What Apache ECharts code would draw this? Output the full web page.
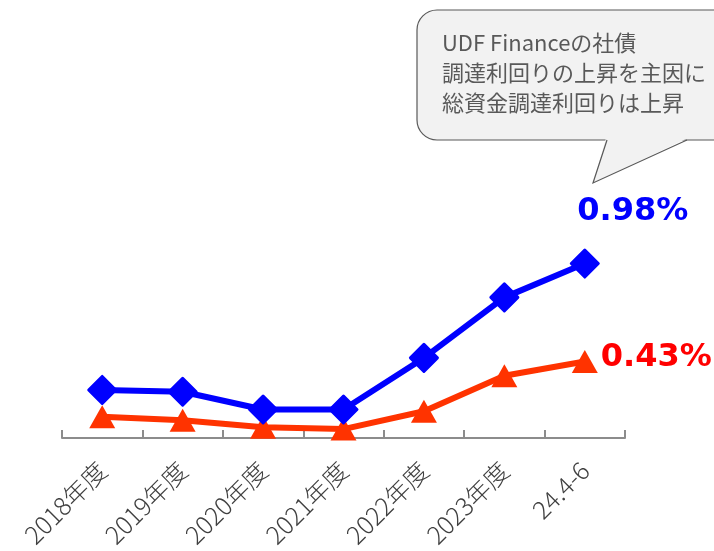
<!DOCTYPE html>
<html>
<head>
    <meta charset="utf-8">
    <title>総資金調達利回り</title>
    <script src="https://cdn.jsdelivr.net/npm/echarts@6/dist/echarts.min.js"></script>
    <style>
        html, body { margin: 0; padding: 0; background: #fff; }
        #chart_main { width: 714px; height: 551px; }
    </style>
</head>
<body>
    <div id="chart_main"></div>
    <script>
        // データ
        var categories = ['2018年度', '2019年度', '2020年度', '2021年度', '2022年度', '2023年度', '24.4-6'];
        var totalRate = [0.27, 0.26, 0.16, 0.16, 0.45, 0.79, 0.98];   // 青
        var otherRate = [0.12, 0.10, 0.06, 0.05, 0.15, 0.35, 0.43];   // 赤
        var calloutLines = ['UDF Financeの社債', '調達利回りの上昇を主因に', '総資金調達利回りは上昇'];

        var myChart = echarts.init(document.getElementById('chart_main'));

        function lastLabel(color, pos, offset) {
            return {
                show: true,
                position: pos,
                offset: offset,
                color: color,
                fontSize: 32,
                fontWeight: 'bold',
                fontFamily: 'DejaVu Sans',
                formatter: function (p) {
                    return p.dataIndex == categories.length - 1 ? p.value.toFixed(2) + '%' : '';
                }
            };
        }

        var bubbleFill = '#f2f2f2';
        var bubbleLine = '#595959';

        var option = {
            animation: false,
            grid: { left: 62, right: 89, top: 171, bottom: 113 },
            xAxis: {
                type: 'category',
                data: categories,
                axisLine: { lineStyle: { color: '#8c8c8c', width: 2 } },
                axisTick: { show: true, inside: true, length: 8, interval: 0, lineStyle: { color: '#8c8c8c', width: 2 } },
                axisLabel: {
                    rotate: 45,
                    interval: 0,
                    margin: 28,
                    color: '#404040',
                    fontSize: 25,
                    fontWeight: 300,
                    fontFamily: 'Noto Sans CJK JP'
                }
            },
            yAxis: {
                type: 'value',
                min: 0,
                max: 1.5,
                show: false
            },
            series: [{
                name: '赤',
                type: 'line',
                data: otherRate,
                symbol: 'triangle',
                symbolSize: [26, 23],
                lineStyle: { color: '#ff3300', width: 6 },
                itemStyle: { color: '#ff3300' },
                label: lastLabel('#ff0000', 'right', [-2, -4]),
                z: 2
            }, {
                name: '青',
                type: 'line',
                data: totalRate,
                symbol: 'diamond',
                symbolSize: 27,
                lineStyle: { color: '#0000ff', width: 6 },
                itemStyle: { color: '#0000ff', borderColor: '#0000ff', borderWidth: 3, borderJoin: 'round' },
                label: lastLabel('#0000ff', 'top', [48, -16]),
                z: 3
            }],
            graphic: [{
                // 吹き出し
                type: 'rect',
                shape: { x: 417, y: 10, width: 320, height: 130, r: 20 },
                style: { fill: bubbleFill, stroke: bubbleLine, lineWidth: 1.2 },
                z: 10
            }, {
                type: 'polygon',
                shape: { points: [[606, 138], [593, 183], [688, 138]] },
                style: { fill: bubbleFill },
                z: 11
            }, {
                type: 'polyline',
                shape: { points: [[607, 140], [593, 183], [687, 140]] },
                style: { fill: null, stroke: bubbleLine, lineWidth: 1.2 },
                z: 12
            }, {
                type: 'text',
                x: 442,
                y: 28,
                style: {
                    text: calloutLines.join('\n'),
                    fill: bubbleLine,
                    font: '22px "Noto Sans CJK JP"',
                    lineHeight: 30
                },
                z: 13
            }]
        };

        myChart.setOption(option);
    </script>
</body>
</html>
